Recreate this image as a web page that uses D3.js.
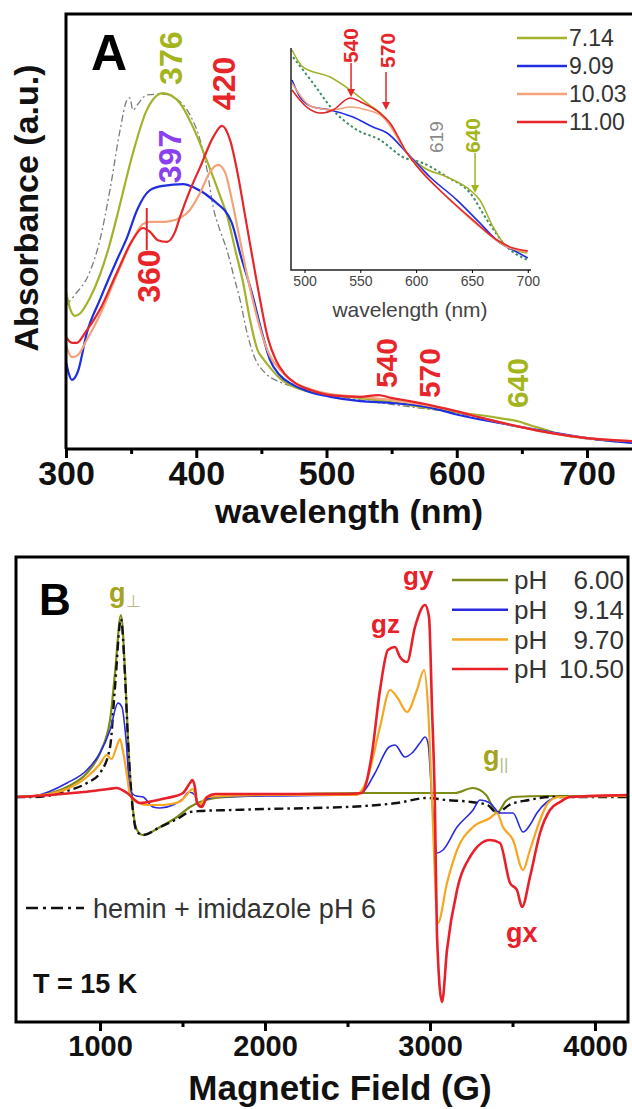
<!DOCTYPE html>
<html>
<head>
<meta charset="utf-8">
<script src="https://cdn.jsdelivr.net/npm/d3@7"></script>
<style>
  body { margin: 0; background: #fff; }
  svg { display: block; }
  text { font-family: "Liberation Sans", Arial, sans-serif; }
</style>
</head>
<body>
<div id="chart"></div>
<script>
// ---------- Panel A : UV-vis, [wavelength nm, absorbance a.u.] ----------
const uv714 = [[300,36.1],[303,32.4],[307,30.6],[311,31.2],[318,34.5],[326,40],[333,46.5],[339,53.3],[351,67.6],[362,77.9],[374.5,81.8],[387.5,79.5],[397.5,74.0],[408,66.4],[418,58.4],[424,53.3],[430,45.7],[436,38.2],[441,30.1],[447,22.8],[452,20.5],[457,18.6],[464,16.3],[472,14.7],[487,13.1],[503,12.4],[526,11.7],[549,10.8],[572,9.7],[599,8.5],[633,7.1],[649,6.2],[656,5.5],[668,4.4],[679,3.4],[700,2.5],[735,1.6]];
const uv909 = [[300,20.0],[304.6,15.9],[309,17.7],[316,26.7],[326,34.3],[339,43.4],[347,48.7],[354.5,54.9],[364.5,59.5],[374.5,60.5],[390,60.9],[399,60.0],[413,57.2],[427,52.2],[434,44.6],[443.6,34.9],[450.5,26.7],[456.6,20.5],[464,17.0],[473.5,14.9],[487,13.1],[503,12.0],[526,11.0],[549,10.6],[572,9.9],[587,9.0],[599,8.0],[625.5,6.4],[648.6,5.1],[671.6,3.9],[700,2.5],[735,1.4]];
const uv1003 = [[300,23.9],[304.6,21.1],[309,21.6],[316,25.1],[326,30.8],[339,40.0],[351,48.0],[359,51.7],[364.5,52.2],[372,52.2],[380,52.4],[387.5,53.1],[395,54.9],[403,58.9],[410.6,63.7],[416.7,65.3],[422,63.7],[427.4,57.2],[433.6,48.0],[439,40.0],[444.3,33.1],[450.5,26.2],[456.6,21.4],[464.3,18.2],[473.5,15.6],[487.3,13.8],[502.7,12.6],[525.7,12.0],[548.8,11.3],[571.8,10.3],[599.4,8.7],[625.5,6.7],[648.6,5.1],[671.6,3.7],[700,2.5],[735,1.8]];
const uv1100 = [[300,25.7],[304.6,24.4],[308.4,24.4],[314.6,26.7],[326,32.0],[339,40.5],[351,48.0],[359,50.8],[364.5,49.9],[370.6,48.0],[377.5,47.6],[383.7,49.9],[387.5,53.3],[395.2,59.5],[403,64.8],[413,71.7],[419.8,74.3],[426,71.0],[432,63.0],[437.4,53.8],[442.8,44.6],[449,34.3],[455,25.5],[461,20.5],[468,17.2],[475.8,15.2],[487.3,13.6],[502.7,12.4],[525.7,12.0],[540,12.4],[548.8,11.8],[564,11.0],[579.5,10.1],[599.4,8.7],[625.5,6.7],[648.6,5.1],[671.6,3.7],[700,2.5],[735,1.8]];
const uvRef = [[300,33.0],[307,35.5],[318,40.5],[326,48.0],[334,60.0],[341.5,73.3],[346.8,80.2],[349,80.7],[351.4,77.9],[355.3,79.3],[362,81.4],[374.5,81.6],[383.7,80.7],[395.2,76.8],[403,71.0],[408.3,64.1],[413,55.6],[418.2,50.3],[423.6,45.7],[429,39.5],[433.6,34.3],[439,26.7],[445,20.9],[452.8,17.5],[464.3,15.4],[479.7,14.0],[502.7,12.4],[525.7,11.3],[548.8,10.3],[571.8,9.4],[599.4,8.3],[625.5,6.4],[648.6,5.1],[671.6,3.7],[700,2.3],[735,1.4]];

// inset, [wavelength nm, absorbance a.u.]
const in714 = [[488.8,99.1],[498.6,91.4],[523,86.9],[540.8,81.1],[556,75.2],[574,67.6],[591.8,52.7],[606,46.4],[627.7,41.9],[648.3,36.0],[657,31.5],[669,19.4],[681.4,10.4],[699.4,7.7]];
const in909 = [[488.8,85.6],[496,77.9],[507.6,73.4],[523,72.1],[543.5,68.9],[561.4,64.4],[574,61.7],[591.8,52.7],[612.4,41.9],[636.6,31.5],[657,21.2],[675,12.2],[686.8,9.0],[700,5.4]];
const in1003 = [[488.8,84.2],[507.6,73.4],[525.5,72.1],[540.8,73.4],[556,72.1],[570.3,68.9],[591.8,52.7],[609.8,41.9],[633,30.2],[657,19.4],[681.4,10.4],[700,8.1]];
const in1100 = [[488.8,81.1],[502,73.4],[514,70.7],[525.5,72.1],[540.8,77.5],[552.4,75.2],[567.6,70.7],[576.6,66.2],[591.8,52.7],[603.5,45.0],[627.7,32.9],[651,22.5],[672.5,13.5],[686.8,9.9],[700,8.6]];
const inRef = [[489.7,95.9],[507.6,84.2],[525.5,72.1],[547,63.1],[567.6,58.6],[588,50.9],[606,48.2],[627.7,41.9],[648.3,34.7],[663.5,22.5],[681.4,10.4],[700,4.5]];

const legendA = ["7.14", "9.09", "10.03", "11.00"];
const ticksA = [300, 400, 500, 600, 700];
const minorA = [350, 450, 550, 650];
const ticksInset = [500, 550, 600, 650, 700];

// ---------- Panel B : EPR, [field G, signal a.u.] ----------
const epr600 = [[491,0],[600,1],[800,10],[921,24],[1000,44],[1061,77],[1091,124],[1127,182],[1152,124],[1170,57],[1194,-3],[1224,-33],[1261,-38],[1364,-30],[1467,-20],[1545,-10],[1606,-5],[1700,-1],[2000,2],[2600,4],[2980,4],[3150,4],[3260,9],[3340,2],[3406,-16],[3460,-4],[3503,0],[3700,1],[4200,1]];
const eprHemin = [[491,0],[600,0],[800,6],[921,14],[1000,24],[1061,50],[1091,110],[1127,178],[1152,120],[1170,55],[1194,-5],[1224,-35],[1261,-38],[1364,-30],[1467,-22],[1545,-15],[1606,-14],[1800,-13],[2000,-12],[2300,-11],[2600,-9],[2800,-6],[2982,-1],[3100,-3],[3250,-5],[3350,-8],[3406,-16],[3480,-8],[3600,-3],[3727,0],[4200,0]];
const epr914 = [[491,0],[600,1],[800,14],[921,27],[1000,44],[1061,67],[1109,94],[1133,90],[1158,57],[1182,7],[1220,1],[1261,0],[1321,-10],[1364,-11],[1442,-8],[1500,-2],[1540,5],[1575,2],[1606,-10],[1650,-2],[1700,0],[2000,1],[2500,2],[2585,4],[2667,24],[2752,50],[2788,52],[2848,40],[2891,44],[2939,54],[2970,60],[2988,54],[3012,-3],[3042,-56],[3079,-53],[3164,-30],[3261,-13],[3303,-3],[3364,-6],[3424,-16],[3503,-16],[3564,-35],[3606,-28],[3648,-16],[3709,-5],[3780,0],[4200,1]];
const epr970 = [[491,0],[600,1],[800,8],[921,20],[1000,33],[1040,42],[1070,38],[1100,50],[1121,58],[1140,45],[1165,20],[1182,2],[1220,-4],[1290,-8],[1380,-8],[1480,-5],[1530,3],[1560,8],[1600,-8],[1650,0],[2000,2],[2550,2],[2618,17],[2697,70],[2758,107],[2800,100],[2861,85],[2921,107],[2964,127],[2988,90],[3012,-3],[3048,-126],[3103,-86],[3164,-53],[3261,-30],[3364,-21],[3406,-16],[3442,-30],[3503,-43],[3564,-73],[3606,-53],[3667,-23],[3715,-6],[3780,0],[4200,1]];
const epr1050 = [[491,0],[700,2],[900,5],[1050,8],[1100,9],[1164,4],[1242,-6],[1350,-3],[1406,-1],[1503,4],[1545,14],[1560,17],[1575,10],[1588,-6],[1618,-10],[1648,0],[1700,3],[2000,3],[2500,3],[2585,4],[2645,40],[2697,107],[2745,147],[2788,150],[2818,140],[2861,135],[2909,170],[2970,192],[2994,180],[3012,90],[3030,-10],[3042,-136],[3073,-205],[3103,-153],[3164,-93],[3242,-60],[3364,-43],[3424,-46],[3485,-86],[3527,-93],[3558,-110],[3606,-80],[3667,-36],[3727,-13],[3788,-5],[3850,0],[4200,2]];

const legendB = ["6.00", "9.14", "9.70", "10.50"];
const ticksB = [1000, 2000, 3000, 4000];
const minorB = [1500, 2500, 3500];

// ---------- drawing ----------
const width = 632, height = 1109;
const svg = d3.select("#chart").append("svg")
  .attr("width", width).attr("height", height);

const colA = ["#a3b22a", "#1f2fe0", "#f3a27a", "#e8262a"];
const colB = ["#7d8a16", "#2a2ae0", "#f5a623", "#e8202a"];

function vtext(x, y, txt, size, color, weight) {
  return svg.append("text")
    .attr("transform", `translate(${x},${y}) rotate(-90)`)
    .attr("font-size", size)
    .attr("font-weight", weight || "bold")
    .attr("fill", color)
    .text(txt);
}

function arrowDown(x, y0, y1, color) {
  svg.append("line").attr("x1", x).attr("x2", x).attr("y1", y0).attr("y2", y1 - 6)
    .attr("stroke", color).attr("stroke-width", 1.5);
  svg.append("path").attr("d", `M${x - 4},${y1 - 8}L${x + 4},${y1 - 8}L${x},${y1}Z`).attr("fill", color);
}

// Panel A
const xA = d3.scaleLinear().domain([300, 700]).range([66, 587]);
const yA = d3.scaleLinear().domain([0, 100]).range([449, 14]);

svg.append("clipPath").attr("id", "clipA").append("rect")
  .attr("x", 66).attr("y", 14).attr("width", 566).attr("height", 435);

const lineA = d3.line().x(d => xA(d[0])).y(d => yA(d[1])).curve(d3.curveMonotoneX);
const gA = svg.append("g").attr("clip-path", "url(#clipA)");

gA.append("path").datum(uvRef).attr("d", lineA).attr("fill", "none")
  .attr("stroke", "#7c7c7c").attr("stroke-width", 1.3).attr("stroke-dasharray", "7,3,2,3");
[uv714, uv909, uv1003, uv1100].forEach((s, i) => {
  gA.append("path").datum(s).attr("d", lineA).attr("fill", "none")
    .attr("stroke", colA[i]).attr("stroke-width", 2.2);
});

// frame A
svg.append("path").attr("d", "M66,449V14H632").attr("fill", "none")
  .attr("stroke", "#000").attr("stroke-width", 3);

const axA = svg.append("g").attr("transform", "translate(0,449)")
  .call(d3.axisBottom(xA).tickValues(ticksA).tickSize(9).tickFormat(d3.format("d")));
axA.select(".domain").attr("d", "M66,0H632").attr("stroke-width", 3);
axA.selectAll(".tick line").attr("stroke-width", 3);
axA.selectAll(".tick text").attr("font-size", 34).attr("font-weight", "bold")
  .attr("fill", "#111").attr("dy", "0.72em").attr("y", 12)
  .attr("font-family", "Liberation Sans, Arial, sans-serif");
svg.append("g").attr("transform", "translate(0,449)")
  .call(d3.axisBottom(xA).tickValues(minorA).tickSize(5).tickFormat(""))
  .call(g => g.select(".domain").remove())
  .selectAll(".tick line").attr("stroke-width", 3);

svg.append("text").attr("x", 349).attr("y", 523).attr("text-anchor", "middle")
  .attr("font-size", 34).attr("font-weight", "bold").attr("fill", "#111")
  .text("wavelength (nm)");
svg.append("text").attr("transform", "translate(38,208) rotate(-90)")
  .attr("text-anchor", "middle").attr("font-size", 34).attr("font-weight", "bold")
  .attr("fill", "#111").text("Absorbance (a.u.)");
svg.append("text").attr("x", 91).attr("y", 70).attr("font-size", 50)
  .attr("font-weight", "bold").text("A");

// peak labels A
vtext(xA(389.3), yA(83.7), "376", 32, "#a4b41c");
vtext(xA(429.7), yA(77.9), "420", 32, "#e8262a");
vtext(xA(388.3), yA(61.1), "397", 32, "#8b3ff0");
vtext(xA(372.2), yA(33.6), "360", 32, "#e8262a");
svg.append("line").attr("x1", xA(362)).attr("x2", xA(362))
  .attr("y1", yA(55.4)).attr("y2", yA(45.7)).attr("stroke", "#e8262a").attr("stroke-width", 2);
vtext(xA(554), yA(14.0), "540", 30, "#e8262a");
vtext(xA(587), yA(11.7), "570", 30, "#e8262a");
vtext(xA(654.7), yA(9.4), "640", 30, "#a4b41c");

// inset
const xI = d3.scaleLinear().domain([487, 702]).range([290, 530]);
const yI = d3.scaleLinear().domain([0, 100]).range([270, 48]);
const lineI = d3.line().x(d => xI(d[0])).y(d => yI(d[1])).curve(d3.curveMonotoneX);
svg.append("path").datum(inRef).attr("d", lineI).attr("fill", "none")
  .attr("stroke", "#3f8f67").attr("stroke-width", 2).attr("stroke-dasharray", "2.5,2.5");
[in714, in909, in1003, in1100].forEach((s, i) => {
  svg.append("path").datum(s).attr("d", lineI).attr("fill", "none")
    .attr("stroke", colA[i]).attr("stroke-width", 1.6);
});
svg.append("path").attr("d", "M291,48V270H531").attr("fill", "none")
  .attr("stroke", "#222").attr("stroke-width", 1.5);
const axI = svg.append("g").attr("transform", "translate(0,270)")
  .call(d3.axisBottom(xI).tickValues(ticksInset).tickSize(3));
axI.select(".domain").remove();
axI.selectAll(".tick text").attr("font-size", 14).attr("fill", "#444")
  .attr("font-family", "Liberation Sans Narrow, Liberation Sans, Arial, sans-serif");
svg.append("text").attr("x", 410).attr("y", 317).attr("text-anchor", "middle")
  .attr("font-size", 21).attr("fill", "#444")
  .attr("font-family", "Liberation Sans Narrow, Liberation Sans, Arial, sans-serif")
  .text("wavelength (nm)");

vtext(xI(548), yI(93.2), "540", 21, "#e8262a");
arrowDown(xI(541.7), yI(93.2), yI(77.9), "#e8262a");
vtext(xI(581), yI(91), "570", 21, "#e8262a");
arrowDown(xI(573), yI(89.2), yI(72.1), "#e8262a");
vtext(xI(624), yI(52.7), "619", 19, "#8a8a8a", "normal");
vtext(xI(657.3), yI(52.7), "640", 21, "#a4b41c");
arrowDown(xI(652.8), yI(52.7), yI(34.7), "#a4b41c");

// legend A
legendA.forEach((t, i) => {
  const y = 38 + i * 28;
  svg.append("line").attr("x1", 517).attr("x2", 567).attr("y1", y).attr("y2", y)
    .attr("stroke", colA[i]).attr("stroke-width", 2.5);
  svg.append("text").attr("x", 569).attr("y", y).attr("dy", "0.36em")
    .attr("font-size", 23).attr("fill", "#333").text(t);
});

// Panel B
const xB = d3.scaleLinear().domain([1000, 4000]).range([100, 595]);
const yB = d3.scaleLinear().domain([-225, 240]).range([1022, 557]);

svg.append("clipPath").attr("id", "clipB").append("rect")
  .attr("x", 16).attr("y", 557).attr("width", 612).attr("height", 465);
const lineB = d3.line().x(d => xB(d[0])).y(d => yB(d[1])).curve(d3.curveMonotoneX);
const gB = svg.append("g").attr("clip-path", "url(#clipB)");

gB.append("path").datum(epr600).attr("d", lineB).attr("fill", "none")
  .attr("stroke", colB[0]).attr("stroke-width", 2.2);
gB.append("path").datum(eprHemin).attr("d", lineB).attr("fill", "none")
  .attr("stroke", "#111").attr("stroke-width", 2.4).attr("stroke-dasharray", "9,4,2.5,4");
[epr914, epr970, epr1050].forEach((s, i) => {
  gB.append("path").datum(s).attr("d", lineB).attr("fill", "none")
    .attr("stroke", colB[i + 1]).attr("stroke-width", [1.6, 2.2, 2.6][i]);
});

svg.append("rect").attr("x", 16).attr("y", 557).attr("width", 612).attr("height", 465)
  .attr("fill", "none").attr("stroke", "#000").attr("stroke-width", 3);

const axB = svg.append("g").attr("transform", "translate(0,1022)")
  .call(d3.axisBottom(xB).tickValues(ticksB).tickSize(9).tickFormat(d3.format("d")));
axB.select(".domain").remove();
axB.selectAll(".tick line").attr("stroke-width", 3);
axB.selectAll(".tick text").attr("font-size", 29).attr("font-weight", "bold")
  .attr("fill", "#111").attr("y", 13).attr("dy", "0.72em")
  .attr("font-family", "Liberation Sans, Arial, sans-serif");
svg.append("g").attr("transform", "translate(0,1022)")
  .call(d3.axisBottom(xB).tickValues(minorB).tickSize(5).tickFormat(""))
  .call(g => g.select(".domain").remove())
  .selectAll(".tick line").attr("stroke-width", 3);

svg.append("text").attr("x", 340).attr("y", 1100).attr("text-anchor", "middle")
  .attr("font-size", 35).attr("font-weight", "bold").attr("fill", "#111")
  .text("Magnetic Field (G)");
svg.append("text").attr("x", 39).attr("y", 615).attr("font-size", 44)
  .attr("font-weight", "bold").text("B");

// g labels
const gperp = svg.append("text").attr("x", 109).attr("y", 602).attr("font-size", 27)
  .attr("font-weight", "bold").attr("fill", "#a4a420").text("g");
gperp.append("tspan").attr("font-size", 17).attr("font-weight", "normal")
  .attr("fill", "#b9b98a").attr("dy", 5).text("⊥");
svg.append("text").attr("x", 403).attr("y", 585).attr("font-size", 26)
  .attr("font-weight", "bold").attr("fill", "#e8202a").text("gy");
svg.append("text").attr("x", 371).attr("y", 633).attr("font-size", 26)
  .attr("font-weight", "bold").attr("fill", "#e8202a").text("gz");
const gpar = svg.append("text").attr("x", 483).attr("y", 765).attr("font-size", 27)
  .attr("font-weight", "bold").attr("fill", "#a4a420").text("g");
gpar.append("tspan").attr("font-size", 17).attr("font-weight", "normal")
  .attr("fill", "#b9b98a").attr("dy", 5).text("||");
svg.append("text").attr("x", 506).attr("y", 942).attr("font-size", 27)
  .attr("font-weight", "bold").attr("fill", "#e8202a").text("gx");

// legend B
legendB.forEach((t, i) => {
  const y = 580 + i * 29.7;
  svg.append("line").attr("x1", 452).attr("x2", 508).attr("y1", y).attr("y2", y)
    .attr("stroke", colB[i]).attr("stroke-width", 2.5);
  svg.append("text").attr("x", 514).attr("y", y).attr("dy", "0.36em")
    .attr("font-size", 26).attr("fill", "#333").text("pH");
  svg.append("text").attr("x", 624).attr("y", y).attr("dy", "0.36em")
    .attr("text-anchor", "end").attr("font-size", 26).attr("fill", "#333").text(t);
});

svg.append("line").attr("x1", 26).attr("x2", 84).attr("y1", 908).attr("y2", 908)
  .attr("stroke", "#111").attr("stroke-width", 2.4).attr("stroke-dasharray", "12,5,3,5");
svg.append("text").attr("x", 93).attr("y", 908).attr("dy", "0.36em")
  .attr("font-size", 27).attr("fill", "#333").text("hemin + imidazole pH 6");
svg.append("text").attr("x", 33).attr("y", 993).attr("font-size", 27)
  .attr("font-weight", "bold").attr("fill", "#111").text("T = 15 K");
</script>
</body>
</html>
